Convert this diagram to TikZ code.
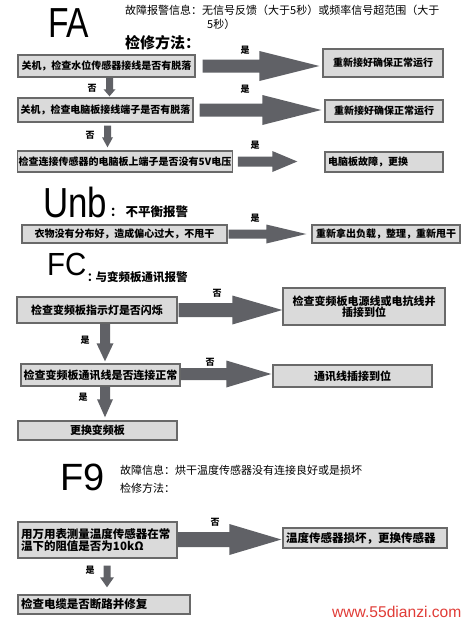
\documentclass[tikz,border=0pt]{standalone}
\usepackage{fontspec}
\setmainfont{Liberation Sans}
\newfontfamily\cjk{Noto Sans CJK SC}
\usetikzlibrary{calc}
\definecolor{arrfill}{RGB}{96,97,102}
\definecolor{boxfill}{RGB}{218,218,218}
\definecolor{boxline}{RGB}{105,105,105}
\definecolor{wmred}{RGB}{225,60,55}
\newcommand\fs[1]{\fontsize{#1}{#1}\selectfont}
% horizontal block arrow: start, end, body half, head half, head length
\newcommand\harrow[5]{\fill[arrfill] let \p1=#1, \p2=#2 in
  (\x1,\y1+#3) -- (\x2-#5,\y1+#3) -- (\x2-#5,\y1+#4) -- (\x2,\y1) --
  (\x2-#5,\y1-#4) -- (\x2-#5,\y1-#3) -- (\x1,\y1-#3) -- cycle;}
% vertical block arrow (downwards)
\newcommand\varrow[5]{\fill[arrfill] let \p1=#1, \p2=#2 in
  (\x1-#3,\y1) -- (\x1-#3,\y2+#5) -- (\x1-#4,\y2+#5) -- (\x1,\y2) --
  (\x1+#4,\y2+#5) -- (\x1+#3,\y2+#5) -- (\x1+#3,\y1) -- cycle;}
\begin{document}
\begin{tikzpicture}[x=1pt,y=-1pt,
  box/.style={draw=boxline, fill=boxfill, line width=1.4pt, inner sep=1pt,
    font=\cjk\bfseries\fs{10}},
  lbl/.style={font=\cjk\bfseries\fs{9}},
  big/.style={anchor=base west, inner sep=0pt},
  head/.style={anchor=base west, inner sep=0pt, font=\cjk\fs{11}},
]
\useasboundingbox[fill=white] (0,0) rectangle (467,622);

% ---------------- FA ----------------
\node[big, font=\fs{42}] (fa) at (48,37) {\scalebox{0.8}[1]{FA}};
\node[head] (fah1) at (125,14) {故障报警信息：无信号反馈（大于5秒）或频率信号超范围（大于};
\node[head] (fah2) at (207,28) {5秒）};
\node[head, font=\cjk\bfseries\fs{15}] (fam) at (125,48) {检修方法：};

\node[box, minimum width=177, minimum height=22] (b1) at (106.5,66) {关机，检查水位传感器接线是否有脱落};
\node[box, minimum width=120, minimum height=28] (r1) at (383,63) {重新接好确保正常运行};
\node[box, minimum width=175, minimum height=24] (b2) at (105.5,110) {关机，检查电脑板接线端子是否有脱落};
\node[box, minimum width=118, minimum height=22] (r2) at (384,111) {重新接好确保正常运行};
\node[box, minimum width=210, minimum height=21] (b3) at (125,161.5) {检查连接传感器的电脑板上端子是否没有5V电压};
\node[box, minimum width=118, minimum height=20, text width=112, align=left] (r3) at (384,162) {电脑板故障，更换};

\harrow{($(b1.east)+(7,0)$)}{($(r1.west)+(-3,0)$)}{6.5pt}{15pt}{60pt}
\harrow{($(b2.east)+(6,0)$)}{($(r2.west)+(-3,0)$)}{6.5pt}{15pt}{59pt}
\harrow{($(b3.east)+(5,0)$)}{($(r3.west)+(-27,0)$)}{5pt}{10.5pt}{25pt}
\varrow{($(b1.south)+(3,0)$)}{($(b2.north)+(3,-1)$)}{3.5pt}{6pt}{7pt}
\varrow{($(b2.south)+(2,3)$)}{($(b3.north)+(-17.5,-3)$)}{3.5pt}{5.5pt}{10pt}

\node[lbl] (l1) at (245,50) {是};
\node[lbl] (l2) at (92,88) {否};
\node[lbl] (l3) at (245,89) {是};
\node[lbl] (l4) at (90,135) {否};
\node[lbl] (l5) at (255,145) {是};

% ---------------- Unb ----------------
\node[big, font=\fs{42}] (unb) at (43,217) {\scalebox{0.83}[1]{Unb}};
\node[head, font=\cjk\bfseries\fs{12.5}] (unbh) at (110,216) {：\kern3pt 不平衡报警};
\node[box, minimum width=205, minimum height=18] (u1) at (124.5,234) {衣物没有分布好，造成偏心过大，不甩干};
\node[box, minimum width=148, minimum height=18] (ur) at (386,234) {重新拿出负载，整理，重新甩干};
\harrow{($(u1.east)+(1,0)$)}{($(ur.west)+(-5,0)$)}{4.5pt}{9.5pt}{40pt}
\node[lbl] (l6) at (255,218) {是};

% ---------------- FC ----------------
\node[big, font=\fs{32}] (fc) at (47,275) {\scalebox{0.92}[1]{FC}};
\node[head, font=\cjk\bfseries\fs{11.5}] (fch) at (87,281) {：\kern-3pt 与变频板通讯报警};
\node[box, minimum width=160, minimum height=26, font=\cjk\bfseries\fs{11}] (c1) at (97,310) {检查变频板指示灯是否闪烁};
\node[box, minimum width=162, minimum height=37, align=center, font=\cjk\bfseries\fs{11}] (cr1) at (364,306.5) {检查变频板电源线或电抗线并\\插接到位};
\node[box, minimum width=159, minimum height=22, font=\cjk\bfseries\fs{11}] (c2) at (100.5,375) {检查变频板通讯线是否连接正常};
\node[box, minimum width=159, minimum height=22, font=\cjk\bfseries\fs{11}] (cr2) at (352.5,376) {通讯线插接到位};
\node[box, minimum width=159, minimum height=19, font=\cjk\bfseries\fs{11}] (c3) at (97.5,430.5) {更换变频板};

\harrow{($(c1.east)+(1,0)$)}{(cr1.west)}{7pt}{14.5pt}{50pt}
\harrow{($(c2.east)+(0,-1)$)}{($(cr2.west)+(-1,0)$)}{6pt}{13.5pt}{45pt}
\varrow{($(c1.south)+(8,0)$)}{($(c2.north)+(4.5,-2)$)}{5pt}{8.5pt}{18pt}
\varrow{($(c2.south)+(4.5,0)$)}{($(c3.north)+(7.5,-3)$)}{5pt}{8pt}{18pt}
\node[lbl] (l7) at (217,293) {否};
\node[lbl] (l8) at (85,340) {是};
\node[lbl] (l9) at (210,362) {否};
\node[lbl] (l10) at (83,397) {是};

% ---------------- F9 ----------------
\node[big, font=\fs{38}] (f9) at (60,490) {F9};
\node[head] (f9h1) at (120,474) {故障信息：烘干温度传感器没有连接良好或是损坏};
\node[head] (f9h2) at (120,492) {检修方法：};
\node[box, minimum width=159, minimum height=36, text width=153, align=left, font=\cjk\bfseries\fs{11.5}] (f1) at (97.5,540) {用万用表测量温度传感器在常\\温下的阻值是否为10kΩ};
\node[box, minimum width=164, minimum height=20, text width=158, align=left, font=\cjk\bfseries\fs{11.5}] (fr) at (365,538) {温度传感器损坏，更换传感器};
\node[box, minimum width=172, minimum height=19, text width=166, align=left, font=\cjk\bfseries\fs{11.5}] (f2) at (104,604.5) {检查电缆是否断路并修复};
\harrow{($(f1.east)+(0,-0.5)$)}{($(fr.west)+(-1,0)$)}{7.5pt}{15.5pt}{52pt}
\varrow{($(f1.south)+(9.5,7)$)}{($(f2.north)+(3,-7)$)}{3.5pt}{7pt}{10pt}
\node[lbl] (l11) at (215,522) {否};
\node[lbl] (l12) at (90,570) {是};

\node[anchor=base west, inner sep=0pt, text=wmred, font=\fs{15.6}] (wm) at (332,617) {www.55dianzi.com};
\end{tikzpicture}
\end{document}
